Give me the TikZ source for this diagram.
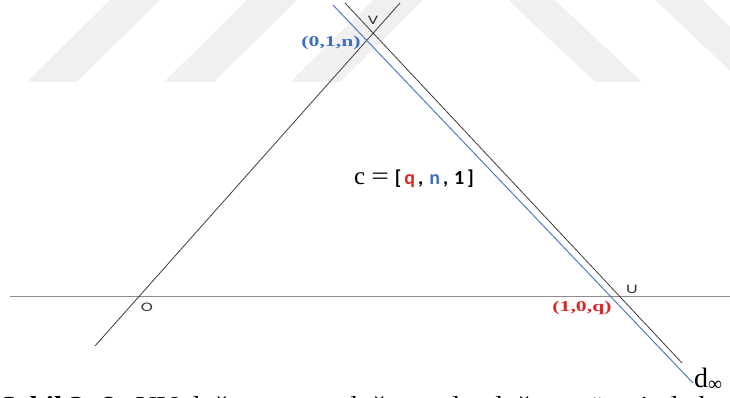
\documentclass[tikz,border=0pt]{standalone}
\usepackage{fontspec}
\setmainfont{Liberation Serif}
\newfontfamily\ptfont[FakeStretch=1.4]{Carlito}
\newfontfamily\crdfont[FakeStretch=1.45]{Liberation Serif}
\newfontfamily\brfont{Carlito}
\newfontfamily\capfont[FakeStretch=1.13]{Liberation Serif}
\usetikzlibrary{backgrounds}
\definecolor{lgray}{HTML}{8C8C8C}
\definecolor{ldark}{HTML}{3C3C3C}
\definecolor{lblue}{HTML}{4D7CC8}
\definecolor{cblue}{HTML}{3A6FC4}
\definecolor{cred}{HTML}{D42A2A}
\definecolor{wmark}{HTML}{F0F0F0}

\begin{document}
\begin{tikzpicture}[
  x=1pt,y=-1pt,
  axis/.style={draw=lgray,line width=1.1pt},
  line/.style={draw=ldark,line width=.8pt},
  cline/.style={draw=lblue,line width=1pt},
  point/.style={font=\ptfont\fontsize{13}{13}\selectfont,text=ldark,inner sep=0pt},
  coord/.style={font=\crdfont\bfseries\fontsize{15}{15}\selectfont,inner sep=0pt},
  band/.style={fill=wmark,draw=none}
]
\useasboundingbox (0,0) rectangle (730,398);
\clip (0,0) rectangle (730,398);

% faint watermark bands behind the figure
\foreach \s in {-50,110,247,373}
  \path[band] (\s,0) -- ++(50,0) -- ++(-83,82) -- ++(-50,0) -- cycle;
\foreach \s in {508,655}
  \path[band] (\s,0) -- ++(47,0) -- ++(87,82) -- ++(-47,0) -- cycle;

% end points of the lines
\coordinate (ha) at (10,296.5);
\coordinate (hb) at (730,296.5);
\coordinate (oa) at (95,346);
\coordinate (ob) at (400,3);
\coordinate (va) at (345,3);
\coordinate (vb) at (682,363);
\coordinate (ca) at (333,5);
\coordinate (cb) at (693,383);

\draw[axis] (ha) -- (hb);
\draw[line] (oa) -- (ob);
\draw[line] (va) -- (vb);
\draw[cline] (ca) -- (cb);

% point labels
\node[point] (V) at (373,20) {V};
\node[point] (O) at (147,307) {O};
\node[point] (U) at (632,289) {U};
\node[coord,text=cblue] (vc) at (331,43) {(0,1,n)};
\node[coord,text=cred] (uc) at (582,308) {(1,0,q)};
\node[anchor=base west,inner sep=0pt,font=\fontsize{25}{25}\selectfont] (c) at (354,184)
  {c\kern6pt\scalebox{1.25}[1]{=}\kern6pt{\brfont\bfseries\fontsize{20}{20}\selectfont
   [\kern3pt\textcolor{cred}{q}\kern3pt,\kern6pt\textcolor{cblue}{n}\kern3pt,\kern6pt1\kern3pt]}};
\node[anchor=base west,inner sep=0pt,font=\fontsize{28}{28}\selectfont] (dinf) at (694,387)
  {d\textsubscript{∞}};

% caption, cut off by the lower edge
\node[anchor=base west,inner sep=0pt,font=\capfont\fontsize{26}{26}\selectfont] (cap) at (0,414)
  {\textbf{Şekil 3. 8:} UV doğrusu ve c doğrusu d∞ doğrusu üzerinde kesişir};
\end{tikzpicture}
\end{document}
